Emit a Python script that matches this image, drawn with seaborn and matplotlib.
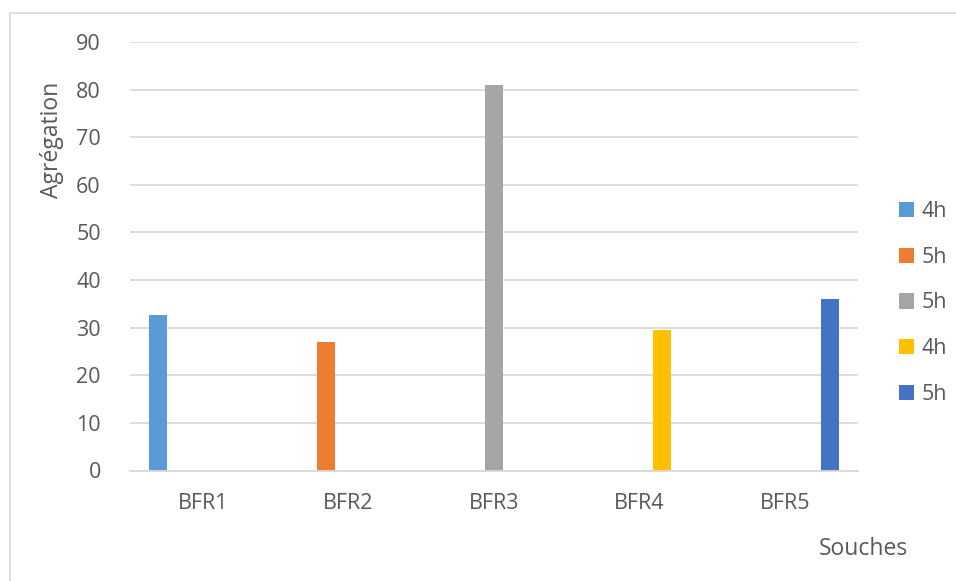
import matplotlib
matplotlib.use("Agg")
import matplotlib.pyplot as plt
import seaborn as sns
import pandas as pd
from matplotlib.patches import Patch
from matplotlib.lines import Line2D

# Data
souches = ["BFR1", "BFR2", "BFR3", "BFR4", "BFR5"]
series_ids = ["s1", "s2", "s3", "s4", "s5"]
series_labels = ["4h", "5h", "5h", "4h", "5h"]
agregation = [32.7, 27.0, 80.9, 29.6, 36.1]
colors = ["#5B9BD5", "#ED7D31", "#A5A5A5", "#FFC000", "#4472C4"]

df = pd.DataFrame({"Souches": souches, "serie": series_ids, "Agrégation": agregation})

sns.set_theme(style="white")
plt.rcParams["font.family"] = ["Open Sans", "DejaVu Sans"]
text_color = "#595959"
grid_color = "#D9D9D9"

fig = plt.figure(figsize=(9.56, 5.81), dpi=100)
W, H = 956, 581
ax = fig.add_axes([130 / W, 1 - 470.5 / H, (858 - 130) / W, (470.5 - 42) / H])

sns.barplot(data=df, x="Souches", y="Agrégation", hue="serie",
            order=souches, hue_order=series_ids, palette=colors,
            width=0.77, gap=0.19, dodge=True, legend=False, ax=ax,
            saturation=1, linewidth=0)

ax.set_ylim(0, 90)
ax.set_xlim(-0.5, len(souches) - 0.5)
ax.set_yticks(range(0, 91, 10))
ax.yaxis.grid(True, color=grid_color, linewidth=1.3)
ax.set_axisbelow(True)
for s in ["top", "right", "left"]:
    ax.spines[s].set_visible(False)
ax.spines["bottom"].set_color(grid_color)
ax.spines["bottom"].set_linewidth(1.3)
ax.tick_params(axis="both", length=0, labelsize=15.5, colors=text_color)
ax.tick_params(axis="y", pad=21)
ax.tick_params(axis="x", pad=16)
ax.set_xlabel("")
ax.set_ylabel("")

fig.text(52 / W, 1 - 140 / H, "Agrégation", rotation=90, ha="center", va="center",
         fontsize=16.5, color=text_color)
fig.text(908 / W, 1 - 549 / H, "Souches", ha="right", va="center",
         fontsize=16.5, color=text_color)

handles = [Patch(facecolor=c, edgecolor="none") for c in colors]
leg = fig.legend(handles, series_labels, loc="center left",
                 bbox_to_anchor=(899 / W, 1 - 303 / H), frameon=False,
                 fontsize=15.5, labelcolor=text_color, handlelength=0.7,
                 handleheight=0.7, handletextpad=0.35, labelspacing=1.15,
                 borderpad=0, borderaxespad=0)

# Chart area border (top and left edges)
fig.add_artist(Line2D([10 / W, 1], [1 - 13 / H, 1 - 13 / H], color=grid_color, lw=1.2))
fig.add_artist(Line2D([10 / W, 10 / W], [0, 1 - 13 / H], color=grid_color, lw=1.2))

fig.savefig("out.png", dpi=100)
